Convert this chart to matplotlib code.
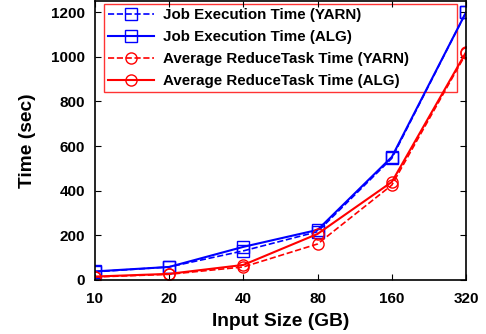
import numpy as np
import matplotlib.pyplot as plt

plt.rcParams['font.family'] = ['Liberation Sans', 'DejaVu Sans']
plt.rcParams['font.weight'] = 'bold'

sizes = ['10', '20', '40', '80', '160', '320']
job_yarn = [36, 58, 130, 216, 545, 1200]
job_alg = [38, 58, 148, 224, 551, 1200]
red_yarn = [13, 25, 58, 161, 425, 1015]
red_alg = [15, 27, 67, 206, 439, 1021]

x = np.arange(len(sizes))

fig = plt.figure(figsize=(4.86, 3.34), dpi=100)
ax = fig.add_axes([0.195, 0.162, 0.764, 0.835])

ax.plot(x, job_yarn, 'b--', marker='s', mfc='none', ms=8, lw=1.2, label='Job Execution Time (YARN)')
ax.plot(x, job_alg, 'b-', marker='s', mfc='none', ms=8, lw=1.5, label='Job Execution Time (ALG)')
ax.plot(x, red_yarn, 'r--', marker='o', mfc='none', ms=8, lw=1.2, label='Average ReduceTask Time (YARN)')
ax.plot(x, red_alg, 'r-', marker='o', mfc='none', ms=8, lw=1.5, label='Average ReduceTask Time (ALG)')

ax.set_xlim(0, 5)
ax.set_ylim(0, 1250)
ax.set_xticks(x)
ax.set_xticklabels(sizes)
ax.set_yticks([0, 200, 400, 600, 800, 1000, 1200])
ax.tick_params(direction='in', top=True, right=True, labelsize=11, length=4)
ax.tick_params(axis='x', pad=9)
ax.tick_params(axis='y', pad=7)
for s in ax.spines.values():
    s.set_linewidth(1.2)

ax.set_xlabel('Input Size (GB)', fontsize=13.8, fontweight='bold', labelpad=5)
ax.set_ylabel('Time (sec)', fontsize=13.8, fontweight='bold', labelpad=11)

leg = ax.legend(loc='upper left', bbox_to_anchor=(0.024, 0.99, 0.951, 0.0), mode='expand',
                fontsize=10.9, handlelength=3.0, fancybox=False, facecolor='none',
                borderaxespad=0, labelspacing=0.52, borderpad=0.3, handletextpad=0.6)
leg.get_frame().set_edgecolor('red')
leg.get_frame().set_linewidth(1.0)
leg.set_zorder(1)

fig.savefig('out.png', dpi=100)
